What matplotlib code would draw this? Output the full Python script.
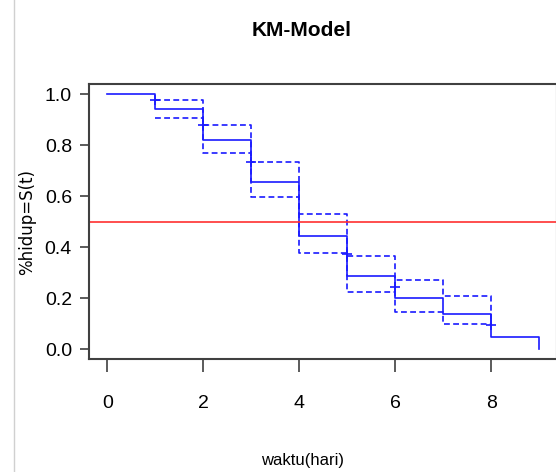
import matplotlib
matplotlib.use("Agg")
import matplotlib.pyplot as plt
from matplotlib.lines import Line2D

# Kaplan-Meier estimate
times = [0, 1, 2, 3, 4, 5, 6, 7, 8, 9]
surv = [1.0, 0.941, 0.821, 0.656, 0.445, 0.288, 0.202, 0.138, 0.048, 0.0]

# confidence band (from t = 1 to t = 8)
ci_times = [1, 2, 3, 4, 5, 6, 7, 8]
upper = [0.976, 0.879, 0.732, 0.531, 0.365, 0.271, 0.208, 0.094]
lower = [0.907, 0.768, 0.595, 0.377, 0.226, 0.145, 0.098, 0.094]

# censoring marks
cens_t = [1.0, 2.0, 3.0, 5.0, 6.0, 8.0]
cens_s = [0.976, 0.879, 0.732, 0.372, 0.243, 0.094]

median_line = 0.5

fig = plt.figure(figsize=(5.56, 4.72), dpi=100)
ax = fig.add_axes([0.1606, 0.2388, 0.841, 0.583])

blue = "#1a1aff"
ax.plot(times, surv, drawstyle="steps-post", color=blue, lw=1.2)
ax.plot(ci_times, upper, drawstyle="steps-post", color=blue, lw=1.2, ls=(0, (3.5, 2)))
ax.plot(ci_times, lower, drawstyle="steps-post", color=blue, lw=1.2, ls=(0, (3.5, 2)))
ax.plot(cens_t, cens_s, ls="none", marker="+", ms=7, mew=1.2, color=blue)
ax.axhline(median_line, color="#ff3030", lw=1.2)

ax.set_xlim(-0.375, 9.37)
ax.set_ylim(-0.039, 1.039)
ax.set_xticks([0, 2, 4, 6, 8])
ax.set_yticks([0.0, 0.2, 0.4, 0.6, 0.8, 1.0])
ax.set_yticklabels(["0.0", "0.2", "0.4", "0.6", "0.8", "1.0"])

for s in ax.spines.values():
    s.set_color("#404040")
    s.set_linewidth(1.5)
ax.tick_params(axis="x", length=9.5, width=1.2, color="#404040", pad=16)
ax.tick_params(axis="y", length=6.5, width=1.2, color="#404040", pad=6)
for lab in ax.get_xticklabels() + ax.get_yticklabels():
    lab.set_family("Liberation Sans")
    lab.set_fontsize(14)

fig.text(302 / 556, 1 - 30 / 472, "KM-Model", ha="center", va="center",
         fontsize=15, fontweight="bold", family="Liberation Sans")
fig.text(303 / 556, 1 - 460 / 472, "waktu(hari)", ha="center", va="center",
         fontsize=12, family="Liberation Sans")
fig.text(27 / 556, 1 - 222 / 472, "%hidup=S(t)", ha="center", va="center",
         rotation=90, fontsize=12, family="DejaVu Sans")

# thin page border on the left
fig.add_artist(Line2D([14 / 556, 14 / 556], [0, 1], color="#d0d0d0", lw=1,
                      transform=fig.transFigure))

fig.savefig("out.png", dpi=100)
